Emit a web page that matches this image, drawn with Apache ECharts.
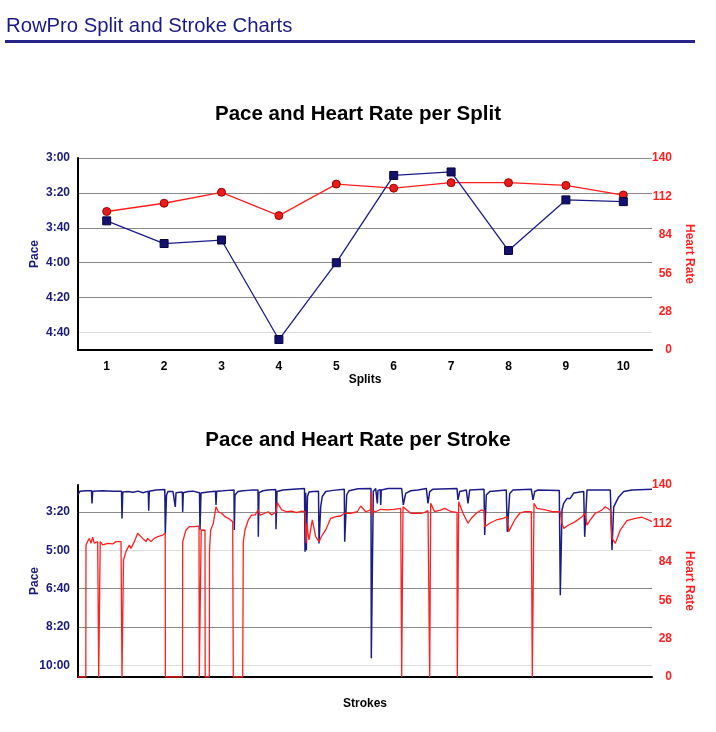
<!DOCTYPE html>
<html>
<head>
<meta charset="utf-8">
<script src="https://cdn.jsdelivr.net/npm/echarts@6/dist/echarts.min.js"></script>
<style>
html,body{margin:0;padding:0;background:#fff;}
#c{width:716px;height:732px;}
</style>
</head>
<body>
<div id="c"></div>
<script>
// ---------- Split chart data ----------
const splits = ['1','2','3','4','5','6','7','8','9','10'];
const splitPace = [216, 229, 227, 284, 240, 190, 188, 233, 204, 205]; // seconds per 500m
const splitHR = [101, 107, 115, 98, 121, 118, 122, 122, 120, 113];
const splitPaceTicks = [180, 200, 220, 240, 260, 280];
const hrTicks = [0, 28, 56, 84, 112, 140];

// ---------- Stroke chart data ----------
const strokePaceNo = [0,2,8,13.5,14,14.7,25,35,43.5,44,44.8,50,55,60,65,70.3,70.7,71.3,78,86.8,87.3,88.5,90,95,97,97.3,98,104.3,104.7,105.3,110,115,121.5,
 122,123,125,130,137.5,138,138.7,145,150,156,156.3,157,160,165,170,175,180,180.3,181,185,190,197.7,198,199,205,215,226.5,
 227,227.7,228.3,229.5,231,235,240.5,241,242.7,244.3,247.7,255,266.3,266.7,268.7,271,280,293,293.3,295.3,297.7,299.3,300,302.3,302.7,303.3,310,323.7,325.3,327.7,332.7,340,348.3,
 350,351.7,355,379,380,381.7,388.3,390,391.7,406,406.7,408.3,411.7,428.3,429.3,431.7,435,453.3,455,456.7,460,481.3,482.3,484,485.7,489,492.3,495.7,505.7,506.7,509,510.7,532.3,534,535.7,537.3,540.7,545.7,554,574];
const strokePace = [155,146,145,145,178,146,145,146,146,217,148,147,149,146,150,146,197,146,143,142,256,156,147,147,147,187,150,148,200,150,147,146,150,
 247,151,149,148,146,182,146,145,144,143,247,156,147,145,144,143,143,265,150,145,143,142,245,147,143,141,139,
 304,150,300,160,148,147,146,282,186,160,147,144,141,278,156,145,140,139,581,147,139,178,144,142,182,143,139,139,182,152,145,143,139,
 178,147,141,139,169,147,143,178,143,141,260,156,147,143,252,152,143,141,169,147,143,144,417,195,178,165,165,151,147,265,143,139,143,299,187,182,161,147,143,141];

const strokeHRNo = [0,7.8,8,9.7,11.3,13,14.7,16.3,19.7,20.5,20.7,22,22.2,24.7,29.7,34.7,38,43,43.8,44,45.3,45.5,48,51.3,53,56.3,59.7,61.3,64.7,68,69.7,73,76.3,79.7,84.7,87.2,87.4,104.5,104.7,108,111.3,116,
 121,121.3,123,123.2,127,127.2,131.3,131.5,132.7,135.3,138,140.3,143.7,147,150.3,154.7,155.3,164.7,165.3,167,170.3,173.7,177,180.3,182,187,190.3,193.7,198,199.3,203.7,208.7,213.7,218.7,223.7,227,
 228,229,230,231,234.3,237.7,241,244.3,247.7,252.7,257.7,262.7,266.7,272.7,279.3,282.7,287.7,292.7,293.3,293.6,294,295,297.7,302.7,309.3,316,322.7,323.5,323.7,324.8,325,332.7,344,
 346.7,350,351.5,351.7,352.5,352.7,356.7,363.3,366.7,373.3,379,379.3,380.5,380.7,385,390,393.3,398.3,403.3,406.5,406.7,411.7,418.3,425,429.3,430.7,436.7,441.7,446.7,453.3,454.1,454.3,455.8,456,
 459,467.3,474,482.3,484,485.7,490.7,497.3,504,507.3,509,512.3,517.3,524,527.3,532.3,534,537.3,542.3,549,557.3,564,569,574];
const strokeHR = [0,0,96,99,101,97.5,102,97.5,98.7,98,0,0,98.7,96.3,97.5,97,98.7,98.7,99,0,0,85.3,91.4,96.3,93.8,98.7,104.8,106,101.1,98.7,101.1,98.7,101.1,102.3,103.5,104.8,0,0,98.7,107.2,109.6,109.6,
 110,0,0,107.2,107,0,0,92.6,107.2,112,124.2,120.5,119.4,116.9,115.7,113.3,0,0,98.7,107.2,114.5,118.1,118.1,121.8,118.1,119.4,120.5,118.1,120.5,127.1,121.8,120.5,121,119.8,121,120.5,
 97.5,112,104.8,100,114.5,102.3,98.7,103.5,107.2,115.7,116.9,117.4,119.4,119.4,120.5,124.7,120.5,121.8,121,135,118,121,120.5,122.3,121.8,122.3,123,122,0,0,124.2,119.4,119.4,
 120,121.3,121,0,0,126.6,120.5,121.8,123,120.5,120.1,0,0,127.8,119.4,112.1,115.7,119.4,121.8,121,109.6,112.1,114.5,115.7,116.9,106,114.5,119.4,120.5,120.5,120,0,0,126.6,
 123,121.8,120.5,120.5,112,108.4,110.8,113.3,116.9,119.4,110.8,114.5,119.4,121.8,124.2,121.8,101.1,97.5,107.2,114,115.7,116.5,115,113.3];
const strokePaceTicks = [200, 300, 400, 500, 600];

function zip(a, b) { return a.map((v, i) => [v, b[i]]); }
function fmtPace(v) {
  const m = Math.floor(v / 60), s = Math.round(v - m * 60);
  return m + ':' + (s < 10 ? '0' : '') + s;
}

const FONT = '"Liberation Sans", Arial, Helvetica, sans-serif';
const NAVY = '#1a1a7a';
const RED = '#ff1f1f';
const BLUE_LINE = '#1c1c86';

const chart = echarts.init(document.getElementById('c'), null, {renderer: 'canvas'});

const option = {
  backgroundColor: '#ffffff',
  animation: false,
  textStyle: {fontFamily: FONT},
  title: [
    {text: 'RowPro Split and Stroke Charts', left: 1, top: 11,
     textStyle: {fontFamily: FONT, fontSize: 20.3, fontWeight: 'normal', color: '#1b1b85'}},
    {text: 'Pace and Heart Rate per Split', left: 'center', top: 99,
     textStyle: {fontFamily: FONT, fontSize: 20.5, fontWeight: 'bold', color: '#000'}},
    {text: 'Pace and Heart Rate per Stroke', left: 'center', top: 425,
     textStyle: {fontFamily: FONT, fontSize: 20.5, fontWeight: 'bold', color: '#000'}}
  ],
  graphic: [
    {type: 'rect', shape: {x: 5, y: 40, width: 690, height: 3}, style: {fill: '#25258a'}}
  ],
  grid: [
    {left: 78, right: 64, top: 158, height: 192, containLabel: false},
    {left: 78, right: 64, top: 485, height: 192, containLabel: false}
  ],
  xAxis: [
    {type: 'category', gridIndex: 0, data: splits, boundaryGap: true,
     name: 'Splits', nameLocation: 'middle', nameGap: 22,
     nameTextStyle: {fontFamily: FONT, fontWeight: 'bold', fontSize: 12, color: '#000'},
     axisLine: {lineStyle: {color: '#000', width: 2}},
     axisTick: {show: false},
     axisLabel: {fontFamily: FONT, fontWeight: 'bold', fontSize: 12, color: '#000', margin: 11},
     splitLine: {show: false}},
    {type: 'value', gridIndex: 1, min: 0, max: 574,
     name: 'Strokes', nameLocation: 'middle', nameGap: 21,
     nameTextStyle: {fontFamily: FONT, fontWeight: 'bold', fontSize: 12, color: '#000'},
     axisLine: {onZero: false, lineStyle: {color: '#000', width: 2}},
     axisTick: {show: false}, axisLabel: {show: false}, splitLine: {show: false}}
  ],
  yAxis: [
    {type: 'value', gridIndex: 0, inverse: true, min: 180, max: 290, interval: 20,
     name: 'Pace', nameLocation: 'middle', nameGap: 37, nameRotate: 90, nameMoveOverlap: false,
     nameTextStyle: {fontFamily: FONT, fontWeight: 'bold', fontSize: 12, color: NAVY},
     axisLine: {show: true, onZero: false, lineStyle: {color: '#000', width: 2}},
     axisTick: {show: false},
     axisLabel: {fontFamily: FONT, fontWeight: 'bold', fontSize: 12, color: NAVY, margin: 8,
                 showMaxLabel: false,
                 formatter: v => splitPaceTicks.indexOf(v) >= 0 ? fmtPace(v) : ''},
     splitLine: {show: true, lineStyle: {color: ['#8a8a8a','#8a8a8a','#8a8a8a','#8a8a8a','#8a8a8a','#dcdcdc','#000'], width: 1}}},
    {type: 'value', gridIndex: 0, position: 'right', min: 0, max: 140, interval: 28,
     name: 'Heart Rate', nameLocation: 'middle', nameGap: 31, nameRotate: -90,
     nameTextStyle: {fontFamily: FONT, fontWeight: 'bold', fontSize: 12, color: RED},
     axisLine: {show: false}, axisTick: {show: false},
     axisLabel: {fontFamily: FONT, fontWeight: 'bold', fontSize: 12, color: RED, margin: 20, align: 'right',
                 formatter: v => hrTicks.indexOf(v) >= 0 ? String(v) : ''},
     splitLine: {show: false}},
    {type: 'value', gridIndex: 1, inverse: true, min: 130, max: 630,
     name: 'Pace', nameLocation: 'middle', nameGap: 37, nameRotate: 90, nameMoveOverlap: false,
     nameTextStyle: {fontFamily: FONT, fontWeight: 'bold', fontSize: 12, color: NAVY},
     axisLine: {show: true, onZero: false, lineStyle: {color: '#000', width: 2}},
     axisTick: {show: false, customValues: strokePaceTicks},
     axisLabel: {fontFamily: FONT, fontWeight: 'bold', fontSize: 12, color: NAVY, margin: 8,
                 customValues: strokePaceTicks, formatter: v => fmtPace(v)},
     splitLine: {show: true, lineStyle: {color: ['#8a8a8a','#dcdcdc','#8a8a8a','#8a8a8a','#dcdcdc'], width: 1}}},
    {type: 'value', gridIndex: 1, position: 'right', min: 0, max: 140, interval: 28,
     name: 'Heart Rate', nameLocation: 'middle', nameGap: 31, nameRotate: -90,
     nameTextStyle: {fontFamily: FONT, fontWeight: 'bold', fontSize: 12, color: RED},
     axisLine: {show: false}, axisTick: {show: false},
     axisLabel: {fontFamily: FONT, fontWeight: 'bold', fontSize: 12, color: RED, margin: 20, align: 'right',
                 formatter: v => hrTicks.indexOf(v) >= 0 ? String(v) : ''},
     splitLine: {show: false}}
  ],
  series: [
    {type: 'line', name: 'HR split', xAxisIndex: 0, yAxisIndex: 1, data: splitHR,
     symbol: 'circle', symbolSize: 8,
     itemStyle: {color: '#e81c1c', borderColor: '#a00000', borderWidth: 1},
     lineStyle: {color: RED, width: 1.3}, z: 3},
    {type: 'line', name: 'Pace split', xAxisIndex: 0, yAxisIndex: 0, data: splitPace,
     symbol: 'rect', symbolSize: 8,
     itemStyle: {color: '#12126e', borderColor: '#050540', borderWidth: 1},
     lineStyle: {color: BLUE_LINE, width: 1.3}, z: 4},
    {type: 'line', name: 'Pace stroke', xAxisIndex: 1, yAxisIndex: 2, data: zip(strokePaceNo, strokePace),
     symbol: 'none', lineStyle: {color: BLUE_LINE, width: 1.5}, z: 3},
    {type: 'line', name: 'HR stroke', xAxisIndex: 1, yAxisIndex: 3, data: zip(strokeHRNo, strokeHR),
     symbol: 'none', lineStyle: {color: RED, width: 1.3}, z: 4}
  ]
};
chart.setOption(option);
</script>
</body>
</html>
